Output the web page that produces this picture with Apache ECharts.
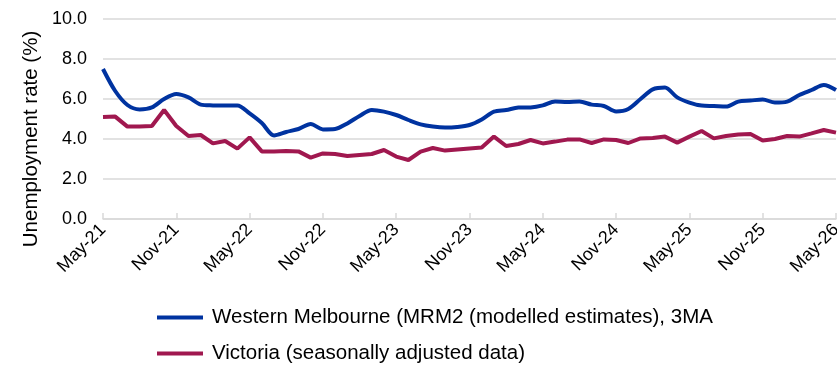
<!DOCTYPE html>
<html>
<head>
<meta charset="utf-8">
<script src="https://cdn.jsdelivr.net/npm/echarts@6/dist/echarts.min.js"></script>
<style>html,body{margin:0;padding:0;background:#fff}#c{width:837px;height:365px}</style>
</head>
<body>
<div id="c"></div>
<script>
const months = ['Jan','Feb','Mar','Apr','May','Jun','Jul','Aug','Sep','Oct','Nov','Dec'];
const categories = [];
for (let y = 21; y <= 26; y++) {
  for (let m = 0; m < 12; m++) {
    if ((y === 21 && m < 4) || (y === 26 && m > 4)) continue;
    categories.push(months[m] + '-' + y);
  }
}
const seriesNames = ['Western Melbourne (MRM2 (modelled estimates), 3MA', 'Victoria (seasonally adjusted data)'];
const westernMelbourne = [
  7.5, 6.4, 5.7, 5.48, 5.58, 6.0, 6.25, 6.08, 5.72, 5.68,
  5.67, 5.68, 5.28, 4.8, 4.18, 4.35, 4.5, 4.75, 4.48, 4.5,
  4.78, 5.15, 5.45, 5.37, 5.2, 4.95, 4.73, 4.62, 4.57, 4.6,
  4.7, 4.98, 5.37, 5.45, 5.57, 5.58, 5.68, 5.88, 5.85, 5.87,
  5.72, 5.65, 5.38, 5.5, 6.0, 6.48, 6.57, 6.08, 5.82, 5.67,
  5.65, 5.62, 5.87, 5.92, 5.98, 5.82, 5.87, 6.2, 6.45, 6.7,
  6.45
];
const victoria = [
  5.1, 5.12, 4.62, 4.63, 4.65, 5.45, 4.65, 4.15, 4.2, 3.78,
  3.9, 3.52, 4.08, 3.38, 3.38, 3.4, 3.38, 3.07, 3.28, 3.25,
  3.15, 3.2, 3.25, 3.45, 3.12, 2.95, 3.37, 3.55, 3.42, 3.48,
  3.53, 3.57, 4.12, 3.65, 3.75, 3.95, 3.78, 3.87, 3.97, 3.98,
  3.8, 3.98, 3.95, 3.8, 4.03, 4.05, 4.12, 3.82, 4.12, 4.4,
  4.03, 4.15, 4.23, 4.25, 3.92, 4.0, 4.15, 4.12, 4.28, 4.45,
  4.32
];
const yTicks = [0, 2, 4, 6, 8, 10];
const yAxisTitle = 'Unemployment rate (%)';
const colors = ['#0033A0', '#A0184F'];
const font = 'Liberation Sans, Arial, sans-serif';

const chart = echarts.init(document.getElementById('c'), null, {renderer: 'canvas'});
chart.setOption({
  animation: false,
  textStyle: {fontFamily: font},
  grid: {left: 103, right: 1, top: 19, bottom: 146, containLabel: false, outerBoundsMode: 'none'},
  legend: {
    orient: 'vertical',
    left: 152,
    top: 302,
    height: 120,
    itemWidth: 46,
    itemHeight: 4,
    itemGap: 15,
    icon: 'rect',
    textStyle: {fontFamily: font, fontSize: 20.5, color: '#000', padding: [0, 0, 0, 4]},
    data: seriesNames
  },
  graphic: [{
    type: 'text',
    x: 31,
    y: 139,
    rotation: Math.PI / 2,
    style: {text: yAxisTitle, font: '20.5px ' + font, fill: '#000', align: 'center', verticalAlign: 'middle'}
  }],
  xAxis: {
    type: 'category',
    data: categories,
    boundaryGap: false,
    axisLine: {lineStyle: {color: '#d9d9d9', width: 1.5}},
    axisTick: {show: true, inside: true, length: 6, interval: 5, lineStyle: {color: '#d9d9d9', width: 1.5}},
    axisLabel: {interval: 5, rotate: 45, fontSize: 18, color: '#000', fontFamily: font, margin: 8, hideOverlap: false},
    splitLine: {show: false}
  },
  yAxis: {
    type: 'value',
    min: yTicks[0],
    max: yTicks[yTicks.length - 1],
    interval: 2,
    axisLine: {show: false},
    axisTick: {show: false},
    axisLabel: {fontSize: 18, color: '#000', fontFamily: font, margin: 16, formatter: v => v.toFixed(1)},
    splitLine: {lineStyle: {color: '#d9d9d9', width: 1.5}}
  },
  series: [
    {name: seriesNames[0], type: 'line', data: westernMelbourne, showSymbol: false, smooth: 0.3,
     lineStyle: {color: colors[0], width: 4}, itemStyle: {color: colors[0]}},
    {name: seriesNames[1], type: 'line', data: victoria, showSymbol: false,
     lineStyle: {color: colors[1], width: 4}, itemStyle: {color: colors[1]}}
  ]
});
</script>
</body>
</html>
